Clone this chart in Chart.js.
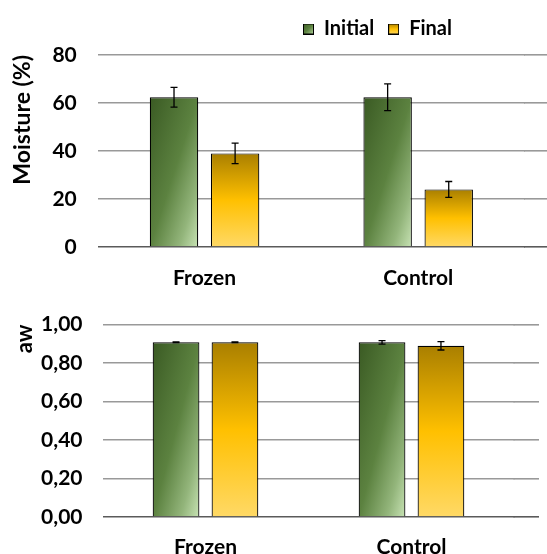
<!DOCTYPE html>
<html>
<head>
<meta charset="utf-8">
<script src="https://cdn.jsdelivr.net/npm/chart.js@4"></script>
<style>
  html, body { margin: 0; padding: 0; background: #fff; }
  #wrap { position: relative; width: 547px; height: 554px; }
  #topChart { position: absolute; left: 0; top: 0; }
  #bottomChart { position: absolute; left: 0; top: 292px; }
</style>
</head>
<body>
<div id="wrap">
  <canvas id="topChart" width="547" height="292"></canvas>
  <canvas id="bottomChart" width="547" height="262"></canvas>
</div>
<script>
const categories = ["Frozen", "Control"];
const seriesNames = ["Initial", "Final"];

const moistureInitial = [62.4, 62.4];
const moistureInitialErr = [4.1, 5.6];
const moistureFinal = [39.0, 24.0];
const moistureFinalErr = [4.3, 3.3];
const moistureTicks = [0, 20, 40, 60, 80];

const awInitial = [0.908, 0.908];
const awInitialErr = [0.002, 0.009];
const awFinal = [0.908, 0.89];
const awFinalErr = [0.002, 0.022];
const awTicks = [0, 0.2, 0.4, 0.6, 0.8, 1.0];

const CAT_PCT = 0.572;
const BAR_PCT = 0.793;
const FONT = "Lato";

// bar box from the scales, used for the per-bar gradients
function barBox(ctx) {
  const chart = ctx.chart;
  const xs = chart.scales.x;
  const ys = chart.scales.y;
  if (!xs || !ys || xs.width === undefined) return null;
  const catW = xs.width / categories.length;
  const slot = (catW * CAT_PCT) / 2;
  const cx = xs.getPixelForValue(ctx.dataIndex) + (ctx.datasetIndex - 0.5) * slot;
  const w = slot * BAR_PCT;
  const v = ctx.dataset.data[ctx.dataIndex];
  return {
    left: cx - w / 2,
    right: cx + w / 2,
    top: ys.getPixelForValue(v),
    bottom: ys.getPixelForValue(0),
  };
}

function greenGradient(c2d, l, t, w, h) {
  const k = (2 * w * h) / (h * h + w * w);
  const g = c2d.createLinearGradient(l, t, l + k * h, t + k * w);
  g.addColorStop(0, "#3a5a23");
  g.addColorStop(0.5, "#5c8240");
  g.addColorStop(0.8, "#93b57b");
  g.addColorStop(1, "#c8e3b5");
  return g;
}

function yellowGradient(c2d, t, h) {
  const g = c2d.createLinearGradient(0, t, 0, t + h);
  g.addColorStop(0, "#a97f00");
  g.addColorStop(0.5, "#ffc000");
  g.addColorStop(1, "#ffd966");
  return g;
}

function barFill(kind) {
  return (ctx) => {
    const b = barBox(ctx);
    if (!b) return kind === "green" ? "#5f8543" : "#ffc000";
    const c2d = ctx.chart.ctx;
    if (kind === "green") {
      return greenGradient(c2d, b.left, b.top, b.right - b.left, b.bottom - b.top);
    }
    return yellowGradient(c2d, b.top, b.bottom - b.top);
  };
}

function legendIcon(kind) {
  const c = document.createElement("canvas");
  c.width = 11;
  c.height = 11;
  const x = c.getContext("2d");
  x.fillStyle = kind === "green" ? greenGradient(x, 0, 0, 11, 11) : yellowGradient(x, 0, 11);
  x.fillRect(0, 0, 11, 11);
  x.strokeStyle = "#000";
  x.lineWidth = 1;
  x.strokeRect(0.5, 0.5, 10, 10);
  return c;
}
const icons = [legendIcon("green"), legendIcon("yellow")];

const errorBarsPlugin = {
  id: "errorBars",
  afterDatasetsDraw(chart, args, opts) {
    const c2d = chart.ctx;
    const ys = chart.scales.y;
    c2d.save();
    c2d.strokeStyle = "#000";
    c2d.lineWidth = 1.3;
    chart.data.datasets.forEach((ds, di) => {
      const meta = chart.getDatasetMeta(di);
      const errs = opts.errors[di];
      meta.data.forEach((bar, i) => {
        const v = ds.data[i];
        const yHi = ys.getPixelForValue(v + errs[i]);
        const yLo = ys.getPixelForValue(v - errs[i]);
        const half = 3.5;
        c2d.beginPath();
        c2d.moveTo(bar.x, yHi);
        c2d.lineTo(bar.x, yLo);
        c2d.moveTo(bar.x - half, yHi);
        c2d.lineTo(bar.x + half, yHi);
        c2d.moveTo(bar.x - half, yLo);
        c2d.lineTo(bar.x + half, yLo);
        c2d.stroke();
      });
    });
    c2d.restore();
  },
};

// gridlines run on past the last category, as in the original
const gridExtendPlugin = {
  id: "gridExtend",
  beforeDatasetsDraw(chart, args, opts) {
    const c2d = chart.ctx;
    const ys = chart.scales.y;
    const area = chart.chartArea;
    c2d.save();
    ys.ticks.forEach((t) => {
      const y = Math.round(ys.getPixelForValue(t.value) - 0.8) + 0.8;
      c2d.strokeStyle = t.value === 0 ? "#5a5a5a" : "#999";
      c2d.lineWidth = 1.6;
      c2d.beginPath();
      c2d.moveTo(area.right - 1, y);
      c2d.lineTo(opts.to, y);
      c2d.stroke();
    });
    c2d.restore();
  },
};

const legendShiftPlugin = {
  id: "legendShift",
  beforeDraw(chart, args, opts) {
    const lg = chart.legend;
    if (!lg || opts.left === undefined) return;
    const w = lg.right - lg.left;
    const h = lg.bottom - lg.top;
    lg.left = opts.left;
    lg.right = opts.left + w;
    lg.top = opts.top;
    lg.bottom = opts.top + h;
  },
};

function makeChart(canvasId, cfg) {
  return new Chart(document.getElementById(canvasId), {
    type: "bar",
    data: {
      labels: categories,
      datasets: [
        {
          label: seriesNames[0],
          data: cfg.initial,
          backgroundColor: barFill("green"),
          borderColor: "#000",
          borderWidth: 1.2,
          categoryPercentage: CAT_PCT,
          barPercentage: BAR_PCT,
        },
        {
          label: seriesNames[1],
          data: cfg.final,
          backgroundColor: barFill("yellow"),
          borderColor: "#000",
          borderWidth: 1.2,
          categoryPercentage: CAT_PCT,
          barPercentage: BAR_PCT,
        },
      ],
    },
    plugins: [gridExtendPlugin, errorBarsPlugin, legendShiftPlugin],
    options: {
      responsive: false,
      animation: false,
      layout: { padding: cfg.padding },
      plugins: {
        tooltip: { enabled: false },
        errorBars: { errors: cfg.errors },
        gridExtend: { to: cfg.gridTo },
        legendShift: { left: cfg.legendLeft, top: cfg.legendTop },
        legend: {
          display: cfg.legend,
          position: "top",
          align: "start",
          labels: {
            color: "#000",
            font: { family: FONT, size: 20, weight: "bold" },
            boxWidth: 11,
            boxHeight: 11,
            padding: 14,
            usePointStyle: true,
            generateLabels: () =>
              seriesNames.map((name, i) => ({
                text: name,
                pointStyle: icons[i],
                fillStyle: "#fff",
                strokeStyle: "#000",
                lineWidth: 0,
                hidden: false,
                datasetIndex: i,
              })),
          },
        },
      },
      scales: {
        x: {
          grid: { display: false },
          border: { display: false },
          ticks: {
            color: "#000",
            font: { family: FONT, size: 21, weight: "bold" },
            padding: cfg.xPad,
          },
          afterFit: (s) => { s.height = cfg.xHeight; },
        },
        y: {
          min: cfg.ticks[0],
          max: cfg.ticks[cfg.ticks.length - 1],
          afterBuildTicks: (s) => { s.ticks = cfg.ticks.map((v) => ({ value: v })); },
          grid: {
            drawTicks: false,
            lineWidth: 1.6,
            color: (c) => (c.tick && c.tick.value === 0 ? "#5a5a5a" : "#999"),
          },
          border: { display: false },
          ticks: {
            color: "#000",
            font: { family: FONT, size: 21, weight: "bold" },
            padding: cfg.yPad,
            callback: cfg.fmt,
          },
          title: {
            display: true,
            text: cfg.title,
            align: "end",
            color: "#000",
            font: { family: FONT, size: cfg.titleSize, weight: "bold" },
            padding: { top: cfg.titleTop, bottom: 0 },
          },
          afterFit: (s) => { s.width = cfg.yWidth; },
        },
      },
    },
  });
}

makeChart("topChart", {
  initial: moistureInitial,
  final: moistureFinal,
  errors: [moistureInitialErr, moistureFinalErr],
  ticks: moistureTicks,
  fmt: (v) => String(v),
  title: "Moisture (%)",
  titleSize: 23,
  titleTop: 9,
  legend: true,
  legendLeft: 289,
  legendTop: 5,
  padding: { top: 11, right: 22, left: 0, bottom: 0 },
  yWidth: 97.75,
  yPad: 21,
  xPad: 11,
  xHeight: 45,
  gridTo: 547,
});

makeChart("bottomChart", {
  initial: awInitial,
  final: awFinal,
  errors: [awInitialErr, awFinalErr],
  ticks: awTicks,
  fmt: (v) => v.toFixed(2).replace(".", ","),
  title: "aw",
  titleSize: 22,
  titleTop: 12,
  legend: false,
  padding: { top: 20, right: 32.5, left: 0, bottom: 0 },
  yWidth: 102.5,
  yPad: 20,
  xPad: 10,
  xHeight: 37,
  gridTo: 539,
});
</script>
</body>
</html>
